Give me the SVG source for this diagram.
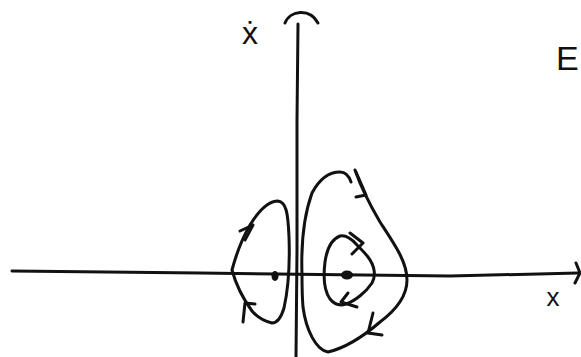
<svg xmlns="http://www.w3.org/2000/svg" width="581" height="357" viewBox="0 0 581 357">
<style>
.s{fill:none;stroke:#111;stroke-width:3;stroke-linecap:round;stroke-linejoin:round}
.t{font-family:"Liberation Sans",sans-serif;fill:#111}
</style>
<rect width="581" height="357" fill="#fff"/>
<g id="axes">
<path class="s" d="M12,271 L200,273 L450,276 L578,273"/>
<path class="s" d="M576,263 L580,273 L575,283"/>
<path class="s" d="M298,24 L297,120 L297,250 L296,357"/>
<path class="s" d="M285,23 C290,10 310,8 318,23"/>
</g>
<g id="fixed-points">
<ellipse cx="275" cy="276" rx="3.5" ry="5" fill="#111"/>
<ellipse cx="347" cy="275" rx="6" ry="4.5" fill="#111"/>
</g>
<g id="connectors">
<g id="left-orbit">
<path class="s" d="M232,270 C236,255 243,237 250,225 C258,212 268,201 278,201 C286,202 288,212 289,237 C290,265 288,290 284,308 C281,318 277,323 272,323 C264,321 258,318 252,311 C244,300 236,285 232,270 Z"/>
<path class="s" d="M240,231 L253,225 L245,240"/>
<path class="s" d="M255,304 L245,303 L243,322"/>
</g>
<g id="outer-orbit">
<path class="s" d="M302,275 C301,245 304,215 312,193 C320,178 330,172 340,172 C345,172 349,176 351,182"/>
<path class="s" d="M355,170 C362,190 370,205 380,222 C395,245 407,262 407,280 C407,297 396,310 380,322 C365,335 345,348 328,352 C316,350 306,330 303,307 C302,295 302,285 302,275"/>
<path class="s" d="M356,172 L366,195 L356,197"/>
<path class="s" d="M373,313 L368,333 L382,335"/>
</g>
<g id="inner-orbit">
<path class="s" d="M357,245 C350,237 345,235 340,236 C332,239 327,248 325,262 C323,278 325,292 330,299 C334,304 340,306 346,304 C355,301 366,292 372,283 C376,276 375,266 368,257 C365,253 361,249 357,245"/>
<path class="s" d="M350,233 L363,243 L352,254"/>
<path class="s" d="M348,293 L341,302 L357,307"/>
</g>
</g>
<g id="labels">
<text class="t" x="250" y="44" font-size="32" text-anchor="middle">ẋ</text>
<text class="t" x="556" y="70" font-size="34">E</text>
<text class="t" x="553" y="306" font-size="26" text-anchor="middle">x</text>
</g>
</svg>
